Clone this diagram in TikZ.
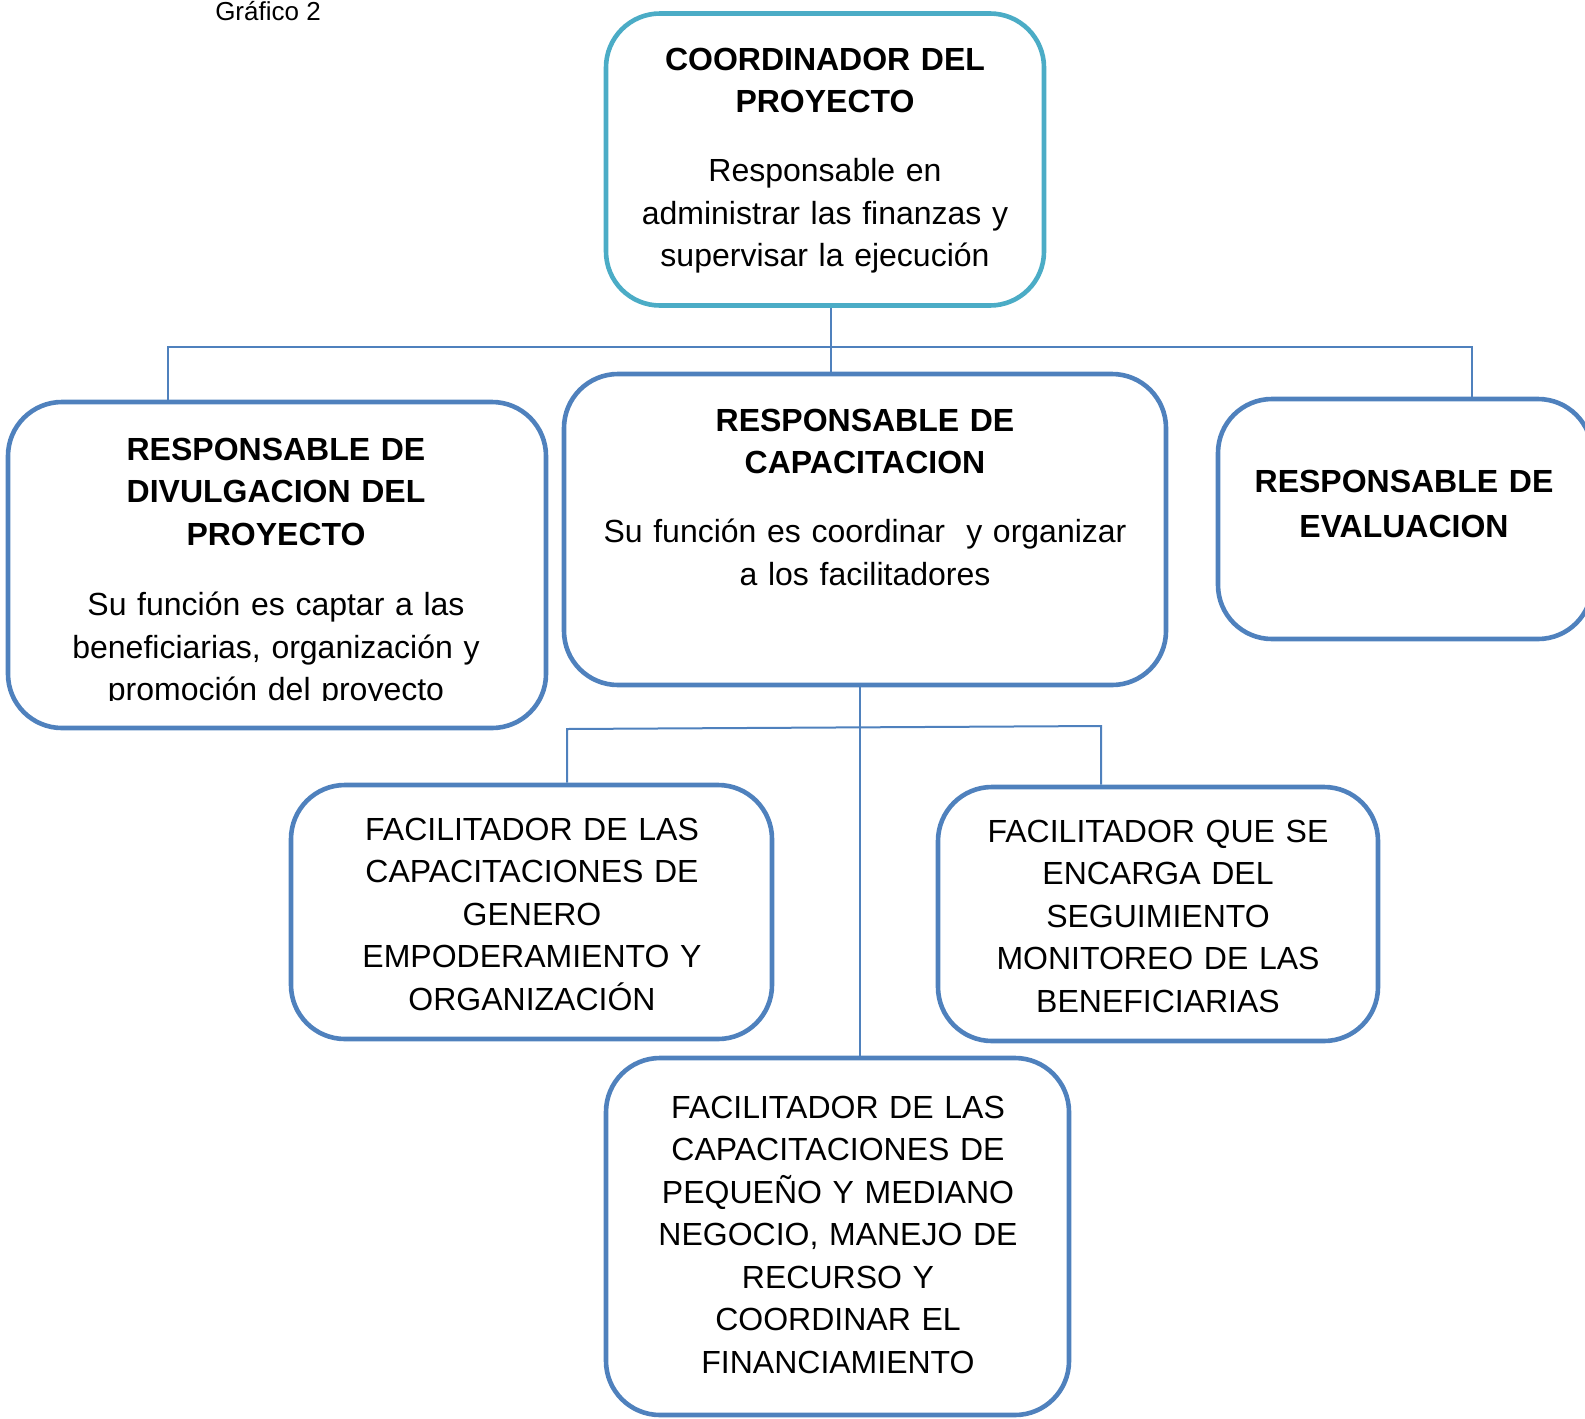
\documentclass[tikz,border=0pt]{standalone}
\usepackage{fontspec}
\setmainfont{Liberation Sans}
\definecolor{azul}{RGB}{79,129,189}
\definecolor{celeste}{RGB}{75,172,198}

\begin{document}
\begin{tikzpicture}[x=0.5pt, y=-0.5pt,
    caja/.style={draw=azul, line width=2.3pt, rounded corners=27pt},
    texto/.style={anchor=base, align=center, inner sep=0pt, font=\fontsize{16}{21.25}\selectfont},
    linea/.style={draw=azul, line width=1pt}]
      \useasboundingbox (0,0) rectangle (1585,1419);
      \node [anchor=base, inner sep=0pt, font=\fontsize{13}{15}\selectfont] (titulo) at (268,20) {Gráfico 2};

%     cajas
      \node [caja, draw=celeste, minimum width=219pt, minimum height=146pt] (coord) at (825,159.5) {};
      \node [caja, minimum width=269pt, minimum height=163pt] (divul) at (277,565) {};
      \node [caja, minimum width=301pt, minimum height=155.5pt] (capac) at (865,529.5) {};
      \node [caja, minimum width=187pt, minimum height=120pt] (evalua) at (1405,519) {};
      \node [caja, minimum width=240.5pt, minimum height=127pt] (facil1) at (531.5,912) {};
      \node [caja, minimum width=220pt, minimum height=127pt] (facil2) at (1158,914) {};
      \node [caja, minimum width=231.5pt, minimum height=178.5pt] (facil3) at (837.5,1236.5) {};

%     textos
      \node [texto, text width=210pt] (tcoord) at (825,70)
        {\textbf{COORDINADOR DEL\\PROYECTO}\\[13.25pt]Responsable en\\administrar las finanzas y\\supervisar la ejecución};
      \begin{scope}
        \clip (0,402) rectangle (560,700);
        \node [texto, text width=260pt] (tdivul) at (276,460)
          {\textbf{RESPONSABLE DE\\DIVULGACION DEL\\PROYECTO}\\[14pt]Su función es captar a las\\beneficiarias, organización y\\promoción del proyecto};
      \end{scope}
      \node [texto, text width=290pt] (tcapac) at (865,431)
        {\textbf{RESPONSABLE DE\\CAPACITACION}\\[13.25pt]Su función es coordinar \ y organizar\\a los facilitadores};
      \node [texto, text width=180pt] (tevalua) at (1404,492)
        {\textbf{RESPONSABLE DE\\[1.25pt]EVALUACION}};
      \node [texto, text width=235pt] (tfacil1) at (532,840)
        {FACILITADOR DE LAS\\CAPACITACIONES DE\\GENERO\\EMPODERAMIENTO Y\\ORGANIZACIÓN};
      \node [texto, text width=215pt] (tfacil2) at (1158,842)
        {FACILITADOR QUE SE\\ENCARGA DEL\\SEGUIMIENTO\\MONITOREO DE LAS\\BENEFICIARIAS};
      \node [texto, text width=225pt] (tfacil3) at (838,1118)
        {FACILITADOR DE LAS\\CAPACITACIONES DE\\PEQUEÑO Y MEDIANO\\NEGOCIO, MANEJO DE\\RECURSO Y\\COORDINAR EL\\FINANCIAMIENTO};

%     conectores
      \coordinate (cruce1) at (831,347);
      \coordinate (ramaIzq) at (168,347);
      \coordinate (ramaDer) at (1472,347);
      \draw [linea] (coord.south -| cruce1) -- (capac.north -| cruce1);
      \draw [linea] (divul.north -| ramaIzq) -- (ramaIzq) -- (ramaDer) -- (evalua.north -| ramaDer);
      \coordinate (cruce2) at (860,728);
      \coordinate (ramaA) at (567,729);
      \coordinate (ramaB) at (1101,726);
      \draw [linea] (capac.south -| cruce2) -- (facil3.north -| cruce2);
      \draw [linea] (facil1.north -| ramaA) -- (ramaA) -- (ramaB) -- (facil2.north -| ramaB);
\end{tikzpicture}
\end{document}
